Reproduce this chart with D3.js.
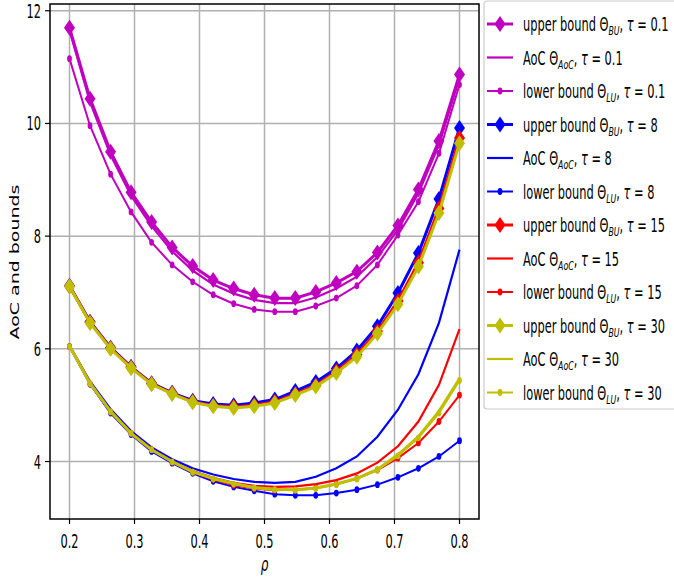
<!DOCTYPE html>
<html lang="en">
<head>
    <meta charset="utf-8">
    <script src="https://cdn.jsdelivr.net/npm/d3@7"></script>
    <style>
        body { margin: 0; background: #fff; }
        text { font-family: "DejaVu Sans", sans-serif; }
    </style>
</head>
<body>
<script>
    // rho values (20 points between 0.2 and 0.8)
    var rho = [0.2, 0.2316, 0.2632, 0.2947, 0.3263, 0.3579, 0.3895, 0.4211, 0.4526, 0.4842,
               0.5158, 0.5474, 0.5789, 0.6105, 0.6421, 0.6737, 0.7053, 0.7368, 0.7684, 0.8];

    var upperT01 = [11.70, 10.44, 9.50, 8.78, 8.25, 7.80, 7.47, 7.22, 7.07, 6.96, 6.90, 6.90, 7.01, 7.17, 7.37, 7.71, 8.19, 8.83, 9.69, 10.87];
    var aocT01   = [11.65, 10.38, 9.44, 8.72, 8.18, 7.73, 7.39, 7.14, 6.98, 6.87, 6.81, 6.81, 6.91, 7.07, 7.28, 7.63, 8.11, 8.76, 9.62, 10.81];
    var lowerT01 = [11.15, 9.96, 9.10, 8.43, 7.89, 7.49, 7.19, 6.96, 6.80, 6.70, 6.66, 6.66, 6.76, 6.90, 7.12, 7.49, 8.02, 8.61, 9.47, 10.69];

    var upperT8 = [7.12, 6.48, 6.02, 5.68, 5.39, 5.22, 5.08, 5.02, 5.00, 5.04, 5.10, 5.25, 5.41, 5.65, 5.97, 6.40, 6.99, 7.70, 8.66, 9.92];
    var aocT8   = [6.06, 5.42, 4.93, 4.54, 4.25, 4.04, 3.88, 3.77, 3.69, 3.64, 3.62, 3.64, 3.73, 3.88, 4.09, 4.44, 4.92, 5.55, 6.46, 7.76];
    var lowerT8 = [6.04, 5.37, 4.86, 4.48, 4.18, 3.97, 3.79, 3.65, 3.55, 3.48, 3.42, 3.40, 3.40, 3.44, 3.50, 3.59, 3.72, 3.88, 4.09, 4.37];

    var upperT15 = [7.11, 6.47, 6.01, 5.67, 5.38, 5.21, 5.06, 4.99, 4.97, 5.00, 5.06, 5.20, 5.35, 5.60, 5.90, 6.31, 6.85, 7.53, 8.49, 9.74];
    var aocT15   = [6.05, 5.39, 4.89, 4.51, 4.22, 4.00, 3.83, 3.71, 3.62, 3.57, 3.55, 3.56, 3.60, 3.67, 3.79, 3.98, 4.27, 4.71, 5.36, 6.35];
    var lowerT15 = [6.04, 5.38, 4.88, 4.50, 4.21, 3.99, 3.81, 3.68, 3.58, 3.52, 3.49, 3.50, 3.53, 3.60, 3.70, 3.85, 4.06, 4.33, 4.71, 5.18];

    var upperT30 = [7.11, 6.46, 6.00, 5.66, 5.37, 5.20, 5.05, 4.98, 4.95, 4.98, 5.04, 5.18, 5.33, 5.57, 5.86, 6.27, 6.79, 7.46, 8.41, 9.65];
    var aocT30   = [6.05, 5.39, 4.89, 4.50, 4.21, 4.00, 3.82, 3.70, 3.61, 3.54, 3.51, 3.50, 3.53, 3.60, 3.70, 3.86, 4.12, 4.44, 4.89, 5.47];
    var lowerT30 = [6.04, 5.38, 4.88, 4.50, 4.21, 3.99, 3.81, 3.69, 3.60, 3.53, 3.50, 3.49, 3.52, 3.59, 3.69, 3.85, 4.10, 4.42, 4.86, 5.44];

    var xTicks = [0.2, 0.3, 0.4, 0.5, 0.6, 0.7, 0.8];
    var yTicks = [4, 6, 8, 10, 12];
    var taus = ['0.1', '8', '15', '30'];
    var colors = ['#bf00bf', '#0000ff', '#ff0000', '#bfbf00'];

    var groups = [
        [upperT01, aocT01, lowerT01],
        [upperT8, aocT8, lowerT8],
        [upperT15, aocT15, lowerT15],
        [upperT30, aocT30, lowerT30]
    ];

    var W = 674, H = 579;
    var pLeft = 50, pRight = 479, pTop = 4, pBottom = 519;
    var sx = 0.6; // horizontal squeeze of the whole picture

    var svg = d3.select('body').append('svg')
        .attr('width', W).attr('height', H);

    var x = d3.scaleLinear().domain([0.17, 0.83]).range([pLeft, pRight]);
    var y = d3.scaleLinear().domain([2.98, 12.12]).range([pBottom, pTop]);

    // grid
    svg.selectAll('.gx').data(xTicks).enter().append('line')
        .attr('x1', function (d) { return x(d); })
        .attr('x2', function (d) { return x(d); })
        .attr('y1', pTop).attr('y2', pBottom)
        .attr('stroke', '#b0b0b0').attr('stroke-width', 1.5);
    svg.selectAll('.gy').data(yTicks).enter().append('line')
        .attr('y1', function (d) { return y(d); })
        .attr('y2', function (d) { return y(d); })
        .attr('x1', pLeft).attr('x2', pRight)
        .attr('stroke', '#b0b0b0').attr('stroke-width', 1.5);

    var diamond = 'M0,-8L5.5,0L0,8L-5.5,0Z';

    var line = d3.line()
        .x(function (d) { return x(d[0]); })
        .y(function (d) { return y(d[1]); });

    var plot = svg.append('g');

    groups.forEach(function (g, k) {
        var c = colors[k];
        // upper bound with diamonds
        var up = rho.map(function (r, i) { return [r, g[0][i]]; });
        plot.append('path').attr('d', line(up))
            .attr('fill', 'none').attr('stroke', c).attr('stroke-width', 3);
        plot.selectAll(null).data(up).enter().append('path')
            .attr('d', diamond)
            .attr('transform', function (d) { return 'translate(' + x(d[0]) + ',' + y(d[1]) + ')'; })
            .attr('fill', c);
        // AoC
        var ao = rho.map(function (r, i) { return [r, g[1][i]]; });
        plot.append('path').attr('d', line(ao))
            .attr('fill', 'none').attr('stroke', c).attr('stroke-width', k === 3 ? 3 : 2.2);
        // lower bound with dots
        var lo = rho.map(function (r, i) { return [r, g[2][i]]; });
        plot.append('path').attr('d', line(lo))
            .attr('fill', 'none').attr('stroke', c).attr('stroke-width', 2);
        plot.selectAll(null).data(lo).enter().append('ellipse')
            .attr('cx', function (d) { return x(d[0]); })
            .attr('cy', function (d) { return y(d[1]); })
            .attr('rx', 2.4).attr('ry', 3.4)
            .attr('fill', c);
    });

    // frame
    svg.append('rect')
        .attr('x', pLeft).attr('y', pTop)
        .attr('width', pRight - pLeft).attr('height', pBottom - pTop)
        .attr('fill', 'none').attr('stroke', '#000').attr('stroke-width', 1.5);

    // ticks and tick labels
    svg.selectAll('.tx').data(xTicks).enter().append('line')
        .attr('x1', function (d) { return x(d); })
        .attr('x2', function (d) { return x(d); })
        .attr('y1', pBottom).attr('y2', pBottom + 5)
        .attr('stroke', '#000').attr('stroke-width', 1.2);
    svg.selectAll('.lx').data(xTicks).enter().append('text')
        .attr('transform', function (d) { return 'translate(' + x(d) + ',548) scale(' + sx + ',1)'; })
        .attr('text-anchor', 'middle')
        .attr('font-size', 19)
        .text(function (d) { return d.toFixed(1); });

    svg.selectAll('.ty').data(yTicks).enter().append('line')
        .attr('y1', function (d) { return y(d); })
        .attr('y2', function (d) { return y(d); })
        .attr('x1', pLeft - 5).attr('x2', pLeft)
        .attr('stroke', '#000').attr('stroke-width', 1.2);
    svg.selectAll('.ly').data(yTicks).enter().append('text')
        .attr('transform', function (d) { return 'translate(41,' + (y(d) + 7) + ') scale(' + sx + ',1)'; })
        .attr('text-anchor', 'end')
        .attr('font-size', 19)
        .text(function (d) { return d; });

    // axis labels
    svg.append('text')
        .attr('transform', 'translate(' + x(0.5) + ',571) scale(' + sx + ',1)')
        .attr('text-anchor', 'middle')
        .attr('font-size', 20)
        .attr('font-style', 'italic')
        .text('ρ');
    svg.append('text')
        .attr('transform', 'translate(19,262) rotate(-90) scale(1,' + sx + ')')
        .attr('text-anchor', 'middle')
        .attr('font-size', 19)
        .text('AoC and bounds');

    // legend
    var leg = svg.append('g');
    leg.append('rect')
        .attr('x', 484).attr('y', 1).attr('width', 210).attr('height', 408)
        .attr('rx', 3)
        .attr('fill', '#fff').attr('fill-opacity', 0.8)
        .attr('stroke', '#cccccc').attr('stroke-width', 1.2);

    var kinds = [
        { pre: 'upper bound ', sub: 'BU', w: 3, mark: 'd' },
        { pre: 'AoC ', sub: 'AoC', w: 2.2, mark: null },
        { pre: 'lower bound ', sub: 'LU', w: 2, mark: 'o' }
    ];

    var row = 0;
    taus.forEach(function (t, k) {
        kinds.forEach(function (kd) {
            var cy = 24 + row * 33.5;
            var c = colors[k];
            leg.append('line')
                .attr('x1', 487).attr('x2', 513)
                .attr('y1', cy).attr('y2', cy)
                .attr('stroke', c).attr('stroke-width', kd.w);
            if (kd.mark === 'd') {
                leg.append('path').attr('d', diamond)
                    .attr('transform', 'translate(500,' + cy + ')')
                    .attr('fill', c);
            } else if (kd.mark === 'o') {
                leg.append('ellipse').attr('cx', 500).attr('cy', cy)
                    .attr('rx', 2.4).attr('ry', 3.4).attr('fill', c);
            }
            var tx = leg.append('text')
                .attr('transform', 'translate(523,' + (cy + 7) + ') scale(' + sx + ',1)')
                .attr('font-size', 19);
            tx.append('tspan').text(kd.pre + 'Θ');
            tx.append('tspan').attr('font-size', 13).attr('font-style', 'italic')
                .attr('dy', 4).text(kd.sub);
            tx.append('tspan').attr('dy', -4).text(', ');
            tx.append('tspan').attr('font-style', 'italic').text('τ');
            tx.append('tspan').text(' = ' + t);
            row++;
        });
    });
</script>
</body>
</html>
